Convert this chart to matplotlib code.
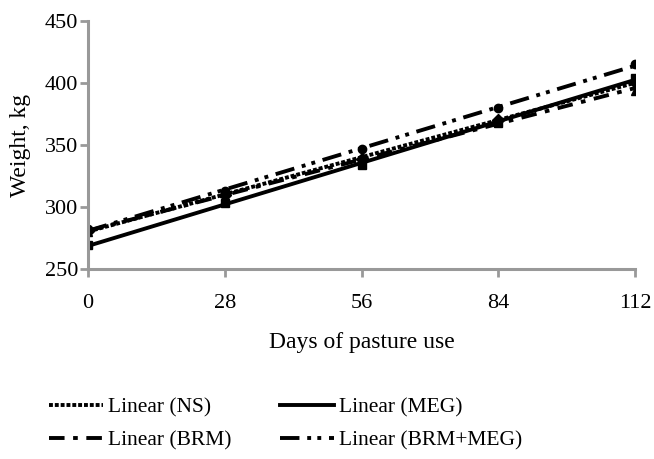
import matplotlib.pyplot as plt
import numpy as np

plt.rcParams['font.family'] = 'Liberation Serif'

# Data
days = [0, 28, 56, 84, 112]
ns = [281, 310, 339, 370, 401]
meg = [269, 303, 334, 368, 404]
brm = [280, 309, 340, 369, 394]
brm_meg = [282, 313, 347, 380, 415]

series = [
    ('Linear (NS)', ns, (0, (1.0, 0.5)), 'D'),
    ('Linear (BRM)', brm, (0, (4, 2.2, 1.2, 2.2)), '^'),
    ('Linear (MEG)', meg, '-', 's'),
    ('Linear (BRM+MEG)', brm_meg, (0, (5, 2, 1, 1.6, 1, 2)), 'o'),
]

fig = plt.figure(figsize=(6.54, 4.59), dpi=100)
ax = fig.add_axes([0.1346, 0.414, 0.8364, 0.540])

x = np.array(days)
handles = []
for label, vals, ls, mk in series:
    ax.plot(days, vals, linestyle='none', marker=mk, color='black', markersize=6)
    k, b = np.polyfit(x, vals, 1)
    line, = ax.plot(x, k * x + b, color='black', linestyle=ls, lw=2.8, label=label)
    handles.append(line)

ax.set_xlim(0, 112)
ax.set_ylim(250, 450)
ax.set_xticks(days)
ax.set_yticks([250, 300, 350, 400, 450])

for s in ['top', 'right']:
    ax.spines[s].set_visible(False)
for s in ['left', 'bottom']:
    ax.spines[s].set_color('#999999')
    ax.spines[s].set_linewidth(2.2)
ax.tick_params(axis='both', direction='out', length=6, width=2, color='#999999',
               labelsize=16)
ax.tick_params(axis='x', pad=12)
ax.tick_params(axis='y', pad=1)

ax.set_xlabel('Days of pasture use', fontsize=17, labelpad=14)
ax.set_ylabel('Weight, kg', fontsize=17, labelpad=10)

fig.legend(handles=handles, loc='center', bbox_to_anchor=(0.437, 0.077), ncol=2,
           frameon=False, fontsize=15.5, handlelength=2.5, columnspacing=2.25,
           handletextpad=0.25, labelspacing=0.6)

fig.savefig('out.png', dpi=100)
